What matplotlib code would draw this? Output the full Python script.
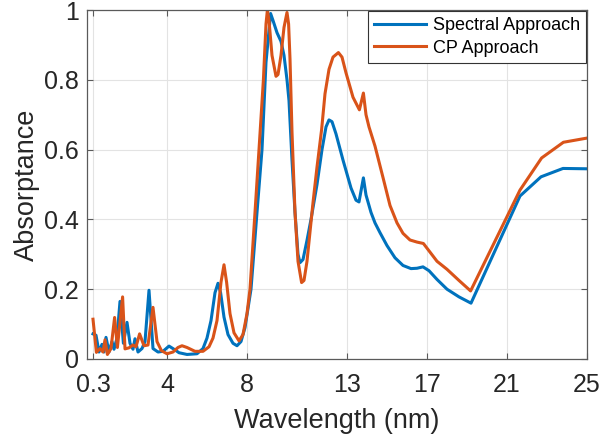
import matplotlib.pyplot as plt

plt.rcParams['font.family'] = ['Liberation Sans', 'DejaVu Sans']

# values
spectral_x = [0.3, 0.45, 0.6, 0.75, 0.85, 0.95, 1.1, 1.25, 1.35, 1.5, 1.65, 1.82, 2.0,
              2.15, 2.3, 2.4, 2.55, 2.75, 2.9, 3.1, 3.3, 3.55, 3.8, 4.1, 4.35, 4.6, 5.0,
              5.5, 5.8, 6.0, 6.2, 6.4, 6.55, 6.68, 6.85, 7.05, 7.3, 7.5, 7.7, 7.9, 8.2,
              8.5, 8.75, 8.95, 9.18, 9.3, 9.5, 9.7, 9.85, 10.0, 10.1, 10.25, 10.4, 10.55,
              10.65, 10.8, 11.0, 11.2, 11.5, 11.75, 11.95, 12.1, 12.25, 12.45, 12.8, 13.2,
              13.45, 13.6, 13.82, 13.95, 14.2, 14.4, 14.65, 15.0, 15.4, 15.8, 16.2, 16.5,
              16.8, 17.1, 17.5, 18.0, 18.6, 19.2, 21.65, 22.7, 23.8, 25.0]
spectral_y = [0.072, 0.068, 0.02, 0.042, 0.02, 0.062, 0.02, 0.05, 0.028, 0.06, 0.165, 0.045, 0.105,
              0.045, 0.028, 0.058, 0.02, 0.03, 0.05, 0.197, 0.03, 0.02, 0.022, 0.037, 0.028, 0.018, 0.013,
              0.015, 0.03, 0.06, 0.11, 0.19, 0.217, 0.19, 0.12, 0.07, 0.045, 0.038, 0.05, 0.09, 0.2,
              0.42, 0.6, 0.85, 0.99, 0.97, 0.935, 0.91, 0.87, 0.8, 0.74, 0.57, 0.42, 0.3,
              0.276, 0.285, 0.34, 0.4, 0.5, 0.6, 0.665, 0.685, 0.68, 0.645, 0.57, 0.49,
              0.455, 0.45, 0.519, 0.47, 0.42, 0.39, 0.362, 0.325, 0.29, 0.268, 0.259, 0.26,
              0.264, 0.253, 0.228, 0.2, 0.178, 0.16, 0.467, 0.522, 0.546, 0.545]

cp_x = [0.3, 0.47, 0.65, 0.8, 0.9, 1.02, 1.2, 1.38, 1.52, 1.78, 1.9, 2.1, 2.3,
        2.45, 2.63, 2.85, 3.05, 3.3, 3.5, 3.72, 4.0, 4.3, 4.55, 4.75, 5.0, 5.4,
        5.8, 6.1, 6.3, 6.5, 6.7, 6.85, 6.98, 7.15, 7.35, 7.6, 7.8, 8.0, 8.15,
        8.4, 8.6, 8.82, 8.95, 9.02, 9.1, 9.25, 9.45, 9.55, 9.7, 9.85, 10.0, 10.08,
        10.15, 10.25, 10.4, 10.55, 10.73, 10.85, 11.0, 11.3, 11.5, 11.73, 11.9, 12.1,
        12.3, 12.57, 12.75, 12.95, 13.3, 13.62, 13.82, 13.95, 14.1, 14.4, 14.8, 15.15,
        15.5, 15.8, 16.15, 16.5, 16.82, 17.1, 17.5, 18.0, 18.6, 19.18, 21.65, 22.73,
        23.82, 25.0]
cp_y = [0.114, 0.019, 0.03, 0.02, 0.055, 0.013, 0.03, 0.119, 0.033, 0.178, 0.029, 0.032, 0.04,
        0.035, 0.072, 0.038, 0.04, 0.148, 0.05, 0.024, 0.015, 0.02, 0.033, 0.038, 0.033, 0.022,
        0.022, 0.035, 0.06, 0.11, 0.22, 0.27, 0.22, 0.13, 0.075, 0.052, 0.07, 0.13, 0.2,
        0.42, 0.6, 0.8, 0.96, 1.0, 0.97, 0.87, 0.81, 0.815, 0.87, 0.95, 0.993, 0.96,
        0.86, 0.65, 0.42, 0.28, 0.219, 0.225, 0.28, 0.448, 0.55, 0.657, 0.76, 0.83,
        0.865, 0.878, 0.865, 0.82, 0.75, 0.714, 0.762, 0.7, 0.665, 0.61, 0.52, 0.44,
        0.39, 0.36, 0.341, 0.335, 0.331, 0.31, 0.28, 0.257, 0.225, 0.195, 0.484, 0.576,
        0.621, 0.633]

xticks = [0.3, 4, 8, 13, 17, 21, 25]
xtick_labels = ['0.3', '4', '8', '13', '17', '21', '25']
yticks = [0, 0.2, 0.4, 0.6, 0.8, 1]
ytick_labels = ['0', '0.2', '0.4', '0.6', '0.8', '1']

fig = plt.figure(figsize=(6.03, 4.41), dpi=100)
ax = fig.add_axes([87 / 603, 1 - 359 / 441, 500 / 603, 349 / 441])

ax.plot(spectral_x, spectral_y, color='#0072BD', lw=2.2, label='Spectral Approach')
ax.plot(cp_x, cp_y, color='#D95319', lw=2.2, label='CP Approach')

ax.set_xlim(0, 25)
ax.set_ylim(0, 1)
ax.set_xticks(xticks)
ax.set_xticklabels(xtick_labels)
ax.set_yticks(yticks)
ax.set_yticklabels(ytick_labels)

ax.grid(True, color='#e3e3e3', lw=0.8)
ax.set_axisbelow(True)
for s in ax.spines.values():
    s.set_color('#5a5a5a')
    s.set_linewidth(0.9)
ax.tick_params(direction='in', top=True, right=True, length=4, width=0.8,
               color='#5a5a5a', labelcolor='#262626', labelsize=18)
ax.tick_params(axis='x', pad=10)
ax.tick_params(axis='y', pad=6)

ax.set_xlabel('Wavelength (nm)', fontsize=19.5, color='#262626', labelpad=8)
ax.set_ylabel('Absorptance', fontsize=19.5, color='#262626', labelpad=3)

leg = ax.legend(loc='upper right', fontsize=13, fancybox=False, framealpha=1,
                edgecolor='#333333', borderaxespad=0.05, handlelength=2.9,
                borderpad=0.35, labelspacing=0.3, handletextpad=0.35)
leg.get_frame().set_linewidth(0.8)

fig.savefig('out.png', dpi=100)
